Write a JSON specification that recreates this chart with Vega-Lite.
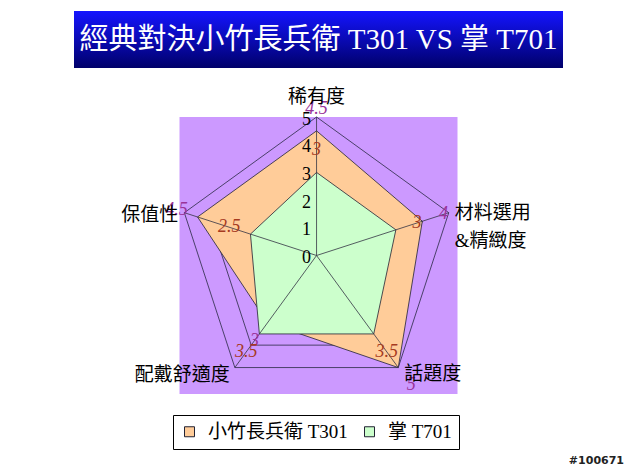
{
  "$schema": "https://vega.github.io/schema/vega-lite/v6.json",
  "padding": {"left": 74, "top": 11, "right": 0, "bottom": 0},
  "background": "white",
  "bounds": "flush",
  "center": true,
  "spacing": 49,
  "config": {"view": {"stroke": null}, "font": "Liberation Serif, Noto Sans CJK TC"},
  "title": {"text": "#100671", "orient": "bottom", "anchor": "end", "fontSize": 11, "fontWeight": "bold", "font": "DejaVu Sans", "color": "#222", "dx": 61, "offset": 5},
  "datasets": {
    "cats": [
      {"key": "稀有度", "idx": 0, "label": "稀有度", "levels": [1, 2, 3, 4, 5]},
      {"key": "材料選用&精緻度", "idx": 1, "label": "材料選用\n&精緻度", "levels": [1, 2, 3, 4, 5]},
      {"key": "話題度", "idx": 2, "label": "話題度", "levels": [1, 2, 3, 4, 5]},
      {"key": "配戴舒適度", "idx": 3, "label": "配戴舒適度", "levels": [1, 2, 3, 4, 5]},
      {"key": "保值性", "idx": 4, "label": "保值性", "levels": [1, 2, 3, 4, 5]}
    ],
    "scores": [
      {"series": "小竹長兵衛 T301", "key": "稀有度", "idx": 0, "value": 4.5},
      {"series": "小竹長兵衛 T301", "key": "材料選用&精緻度", "idx": 1, "value": 4},
      {"series": "小竹長兵衛 T301", "key": "話題度", "idx": 2, "value": 5},
      {"series": "小竹長兵衛 T301", "key": "配戴舒適度", "idx": 3, "value": 3},
      {"series": "小竹長兵衛 T301", "key": "保值性", "idx": 4, "value": 4.5},
      {"series": "掌 T701", "key": "稀有度", "idx": 0, "value": 3},
      {"series": "掌 T701", "key": "材料選用&精緻度", "idx": 1, "value": 3},
      {"series": "掌 T701", "key": "話題度", "idx": 2, "value": 3.5},
      {"series": "掌 T701", "key": "配戴舒適度", "idx": 3, "value": 3.5},
      {"series": "掌 T701", "key": "保值性", "idx": 4, "value": 2.5}
    ]
  },
  "vconcat": [
    {
      "width": 489,
      "height": 57,
      "data": {"values": [{"title": "經典對決小竹長兵衛 T301 VS 掌 T701"}]},
      "layer": [
        {
          "mark": {"type": "rect", "color": {"gradient": "linear", "x1": 0, "y1": 0, "x2": 0, "y2": 1, "stops": [{"offset": 0, "color": "#1414ff"}, {"offset": 1, "color": "#00006a"}]}},
          "encoding": {}
        },
        {
          "mark": {"type": "text", "color": "white", "fontSize": 29, "align": "center", "baseline": "middle", "font": "Liberation Serif, Noto Sans CJK TC"},
          "encoding": {"text": {"field": "title"}}
        }
      ]
    },
    {
      "width": 278,
      "height": 277,
      "view": {"fill": "#cc99ff", "stroke": null},
      "layer": [
        {
          "data": {"name": "cats"},
          "transform": [
            {"flatten": ["levels"], "as": ["level"]},
            {"calculate": "PI/2 - datum.idx*2*PI/5", "as": "ang"},
            {"calculate": "datum.level*cos(datum.ang)", "as": "px"},
            {"calculate": "datum.level*sin(datum.ang)", "as": "py"}
          ],
          "mark": {"type": "line", "interpolate": "linear-closed", "stroke": "#2a2a44", "strokeWidth": 0.8},
          "encoding": {
            "x": {"field": "px", "type": "quantitative", "scale": {"domain": [-4.93, 5.07], "nice": false, "zero": false}, "axis": null},
            "y": {"field": "py", "type": "quantitative", "scale": {"domain": [-5, 5], "nice": false, "zero": false},
              "axis": {"values": [0, 1, 2, 3, 4, 5], "offset": -137, "domain": false, "ticks": false, "grid": false, "labelFontSize": 18, "labelFont": "Liberation Serif", "labelColor": "black", "labelPadding": 6, "labelOffset": 2, "title": null, "zindex": 3}},
            "detail": {"field": "level", "type": "quantitative"},
            "order": {"field": "idx", "type": "quantitative"}
          }
        },
        {
          "data": {"name": "scores"},
          "transform": [
            {"filter": "datum.series === '小竹長兵衛 T301'"},
            {"calculate": "PI/2 - datum.idx*2*PI/5", "as": "ang"},
            {"calculate": "datum.value*cos(datum.ang)", "as": "px"},
            {"calculate": "datum.value*sin(datum.ang)", "as": "py"}
          ],
          "mark": {"type": "line", "interpolate": "linear-closed", "stroke": "#222233", "strokeWidth": 0.8},
          "encoding": {
            "x": {"field": "px", "type": "quantitative", "scale": {"domain": [-4.93, 5.07], "nice": false, "zero": false}, "axis": null},
            "y": {"field": "py", "type": "quantitative", "scale": {"domain": [-5, 5], "nice": false, "zero": false}},
            "order": {"field": "idx", "type": "quantitative"},
            "fill": {"field": "series", "type": "nominal",
              "scale": {"domain": ["小竹長兵衛 T301", "掌 T701"], "range": ["#ffcc99", "#ccffcc"]},
              "legend": {"orient": "none", "legendX": 99, "legendY": 404, "direction": "horizontal", "title": null, "symbolType": "square", "symbolSize": 100, "symbolStrokeColor": "#333333", "symbolStrokeWidth": 1, "labelFont": "Liberation Serif, Noto Sans CJK TC", "labelFontSize": 19, "labelColor": "black", "labelLimit": 400, "strokeColor": "black", "fillColor": "white", "padding": 7, "labelOffset": 9, "columnPadding": 12}}
          }
        },
        {
          "data": {"name": "scores"},
          "transform": [
            {"filter": "datum.series === '掌 T701'"},
            {"calculate": "PI/2 - datum.idx*2*PI/5", "as": "ang"},
            {"calculate": "datum.value*cos(datum.ang)", "as": "px"},
            {"calculate": "datum.value*sin(datum.ang)", "as": "py"}
          ],
          "mark": {"type": "line", "interpolate": "linear-closed", "stroke": "#222233", "strokeWidth": 0.8},
          "encoding": {
            "x": {"field": "px", "type": "quantitative", "scale": {"domain": [-4.93, 5.07], "nice": false, "zero": false}, "axis": null},
            "y": {"field": "py", "type": "quantitative", "scale": {"domain": [-5, 5], "nice": false, "zero": false}},
            "order": {"field": "idx", "type": "quantitative"},
            "fill": {"field": "series", "type": "nominal"}
          }
        },
        {
          "data": {"name": "cats"},
          "transform": [
            {"calculate": "PI/2 - datum.idx*2*PI/5", "as": "ang"},
            {"calculate": "5*cos(datum.ang)", "as": "px"},
            {"calculate": "5*sin(datum.ang)", "as": "py"}
          ],
          "mark": {"type": "rule", "stroke": "#333344", "strokeWidth": 0.8},
          "encoding": {
            "x": {"field": "px", "type": "quantitative", "scale": {"domain": [-4.93, 5.07], "nice": false, "zero": false}, "axis": null},
            "y": {"field": "py", "type": "quantitative", "scale": {"domain": [-5, 5], "nice": false, "zero": false}},
            "x2": {"datum": 0},
            "y2": {"datum": 0}
          }
        },
        {
          "data": {"name": "scores"},
          "transform": [
            {"calculate": "PI/2 - datum.idx*2*PI/5", "as": "ang"},
            {"calculate": "(datum.value+0.8)*cos(datum.ang)", "as": "px"},
            {"calculate": "(datum.value+0.8)*sin(datum.ang)", "as": "py"}
          ],
          "mark": {"type": "text", "fontSize": 18, "fontStyle": "italic", "font": "Liberation Serif", "align": "center", "baseline": "middle"},
          "encoding": {
            "x": {"field": "px", "type": "quantitative", "scale": {"domain": [-4.93, 5.07], "nice": false, "zero": false}, "axis": null},
            "y": {"field": "py", "type": "quantitative", "scale": {"domain": [-5, 5], "nice": false, "zero": false}},
            "text": {"field": "value", "type": "nominal"},
            "color": {"field": "series", "type": "nominal", "scale": {"domain": ["小竹長兵衛 T301", "掌 T701"], "range": ["#993399", "#a63a1f"]}, "legend": null}
          }
        },
        {
          "data": {"name": "cats"},
          "transform": [
            {"calculate": "PI/2 - datum.idx*2*PI/5", "as": "ang"},
            {"calculate": "5*cos(datum.ang)", "as": "px"},
            {"calculate": "5*sin(datum.ang)", "as": "py"}
          ],
          "encoding": {
            "x": {"field": "px", "type": "quantitative", "scale": {"domain": [-4.93, 5.07], "nice": false, "zero": false}, "axis": null},
            "y": {"field": "py", "type": "quantitative", "scale": {"domain": [-5, 5], "nice": false, "zero": false}},
            "text": {"field": "label", "type": "nominal"}
          },
          "layer": [
            {"transform": [{"filter": "datum.idx === 0"}], "mark": {"type": "text", "fontSize": 19, "align": "center", "baseline": "middle", "dy": -20, "color": "black"}},
            {"transform": [{"filter": "datum.idx === 1"}], "mark": {"type": "text", "fontSize": 19, "align": "left", "baseline": "middle", "dx": 6, "dy": 0, "lineBreak": "\n", "lineHeight": 28, "color": "black"}},
            {"transform": [{"filter": "datum.idx === 2"}], "mark": {"type": "text", "fontSize": 19, "align": "left", "baseline": "middle", "dx": 6, "dy": 6, "color": "black"}},
            {"transform": [{"filter": "datum.idx === 3"}], "mark": {"type": "text", "fontSize": 19, "align": "right", "baseline": "middle", "dx": -5, "dy": 7, "color": "black"}},
            {"transform": [{"filter": "datum.idx === 4"}], "mark": {"type": "text", "fontSize": 19, "align": "right", "baseline": "middle", "dx": -6, "dy": 2, "color": "black"}}
          ]
        }
      ]
    }
  ]
}
